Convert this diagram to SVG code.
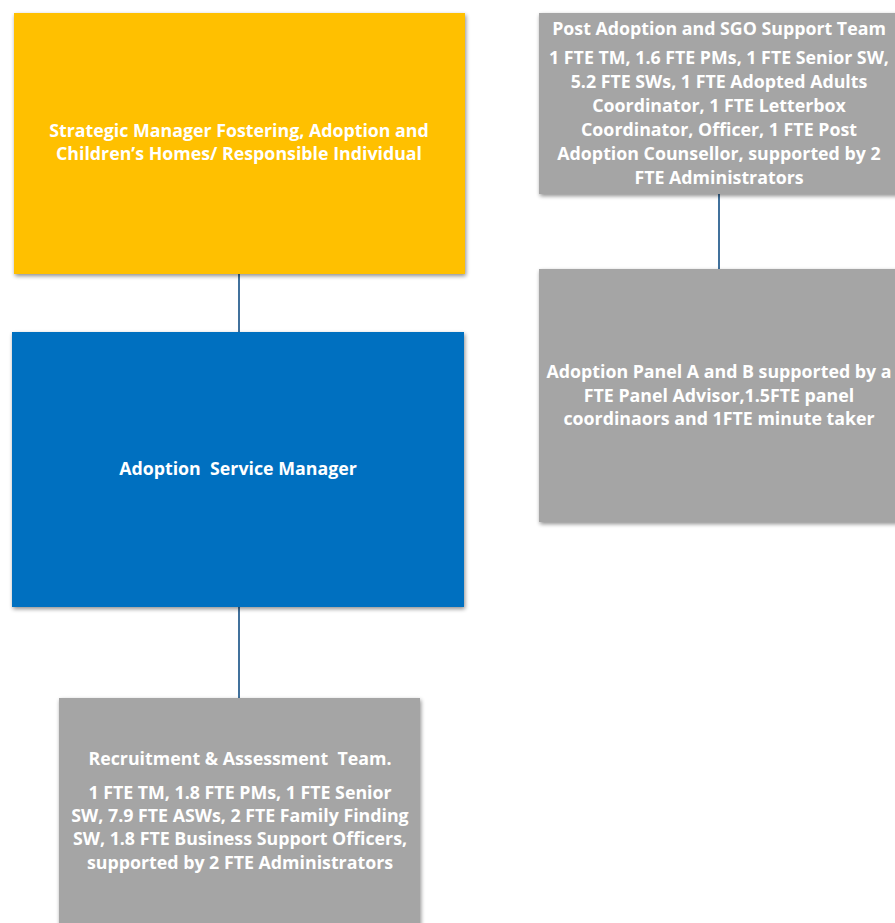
<svg xmlns="http://www.w3.org/2000/svg" width="895" height="923" viewBox="0 0 895 923">
<defs>
<filter id="sh" x="-5%" y="-5%" width="115%" height="115%">
<feGaussianBlur in="SourceAlpha" stdDeviation="2"/>
<feOffset dx="1" dy="2" result="b"/>
<feComponentTransfer><feFuncA type="linear" slope="0.45"/></feComponentTransfer>
<feMerge><feMergeNode/><feMergeNode in="SourceGraphic"/></feMerge>
</filter>
</defs>
<style>
.t{font-family:"Open Sans","Liberation Sans",sans-serif;font-weight:bold;font-size:17.8px;fill:#fff;text-anchor:middle;white-space:pre}
.g{fill:#a5a5a5}
.c{stroke:#41719c;stroke-width:2;fill:none}
</style>
<rect width="895" height="923" fill="#fff"/>
<g id="connectors">
<line class="c" x1="239" y1="274" x2="239" y2="332"/>
<line class="c" x1="239" y1="607" x2="239" y2="698"/>
<line class="c" x1="719" y1="194" x2="719" y2="269"/>
</g>
<g id="strategic">
<rect x="14" y="13" width="451" height="261" fill="#ffc000" filter="url(#sh)"/>
<text class="t" x="239" y="137">Strategic Manager Fostering, Adoption and</text>
<text class="t" x="239" y="160">Children’s Homes/ Responsible Individual</text>
</g>
<g id="asm">
<rect x="12" y="332" width="452" height="275" fill="#0070c0" filter="url(#sh)"/>
<text class="t" x="238" y="475" xml:space="preserve">Adoption  Service Manager</text>
</g>
<g id="recruitment">
<rect class="g" x="59" y="698" width="361" height="240" filter="url(#sh)"/>
<text class="t" x="240" y="765" xml:space="preserve">Recruitment &amp; Assessment  Team.</text>
<text class="t" x="240" y="799">1 FTE TM, 1.8 FTE PMs, 1 FTE Senior</text>
<text class="t" x="240" y="822">SW, 7.9 FTE ASWs, 2 FTE Family Finding</text>
<text class="t" x="240" y="845">SW, 1.8 FTE Business Support Officers,</text>
<text class="t" x="240" y="869">supported by 2 FTE Administrators</text>
</g>
<g id="postadoption">
<rect class="g" x="539" y="13" width="370" height="181" filter="url(#sh)"/>
<text class="t" x="719" y="35">Post Adoption and SGO Support Team</text>
<text class="t" x="719" y="64">1 FTE TM, 1.6 FTE PMs, 1 FTE Senior SW,</text>
<text class="t" x="719" y="88">5.2 FTE SWs, 1 FTE Adopted Adults</text>
<text class="t" x="719" y="112">Coordinator, 1 FTE Letterbox</text>
<text class="t" x="719" y="136">Coordinator, Officer, 1 FTE Post</text>
<text class="t" x="719" y="160">Adoption Counsellor, supported by 2</text>
<text class="t" x="719" y="184">FTE Administrators</text>
</g>
<g id="panel">
<rect class="g" x="539" y="269" width="370" height="253" filter="url(#sh)"/>
<text class="t" x="719" y="378">Adoption Panel A and B supported by a</text>
<text class="t" x="719" y="402">FTE Panel Advisor,1.5FTE panel</text>
<text class="t" x="719" y="425">coordinaors and 1FTE minute taker</text>
</g>
</svg>
